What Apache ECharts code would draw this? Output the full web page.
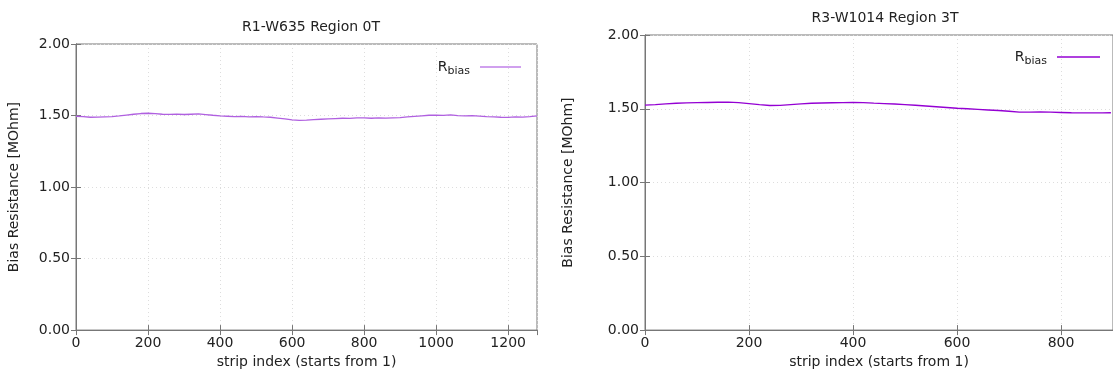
<!DOCTYPE html>
<html><head><meta charset="utf-8">
<script src="https://cdn.jsdelivr.net/npm/echarts@6/dist/echarts.min.js"></script>
<style>html,body{margin:0;padding:0;background:#fff}#c{width:1113px;height:374px}</style>
</head><body><div id="c"></div>
<script>
const leftTitle = "R1-W635 Region 0T";
const rightTitle = "R3-W1014 Region 3T";
const xName = "strip index (starts from 1)";
const yName = "Bias Resistance [MOhm]";

const leftIndex = [0,20,40,60,80,100,120,140,160,180,200,220,240,260,280,300,320,340,360,380,400,420,440,460,480,500,520,540,560,580,600,620,640,660,680,700,720,740,760,780,800,820,840,860,880,900,920,940,960,980,1000,1020,1040,1060,1080,1100,1120,1140,1160,1180,1200,1220,1240,1260,1280];
const leftValues = [1.495,1.492,1.488,1.489,1.491,1.493,1.497,1.503,1.509,1.514,1.516,1.513,1.509,1.508,1.510,1.507,1.509,1.511,1.507,1.502,1.498,1.495,1.492,1.494,1.491,1.493,1.490,1.488,1.482,1.476,1.470,1.466,1.468,1.471,1.474,1.477,1.479,1.481,1.480,1.483,1.484,1.481,1.483,1.482,1.484,1.486,1.490,1.494,1.498,1.502,1.503,1.501,1.504,1.500,1.498,1.499,1.496,1.493,1.491,1.488,1.487,1.490,1.489,1.492,1.497];

const rightIndex = [0,20,40,60,80,100,120,140,160,180,200,220,240,260,280,300,320,340,360,380,400,420,440,460,480,500,520,540,560,580,600,620,640,660,680,700,720,740,760,780,800,820,840,860,880,896];
const rightValues = [1.525,1.528,1.533,1.537,1.540,1.542,1.543,1.544,1.545,1.542,1.535,1.528,1.522,1.523,1.528,1.533,1.537,1.539,1.541,1.542,1.543,1.542,1.538,1.535,1.532,1.528,1.524,1.519,1.514,1.509,1.504,1.500,1.496,1.492,1.488,1.483,1.477,1.477,1.478,1.477,1.475,1.473,1.472,1.472,1.472,1.473];

const leftX = {min:0, max:1280, interval:200};
const rightX = {min:0, max:900, interval:200};
const yTicks = {min:0, max:2, interval:0.5};

const FONT = "DejaVu Sans";
const FS = 14;
const TXT = "#222";
const BORDER = "#777";

function pair(xs, ys){ return xs.map((x,i)=>[x, ys[i]]); }

const chart = echarts.init(document.getElementById('c'), null, {renderer:'canvas'});

const grids = [
  {left:76, top:44, width:461, height:289, show:true, borderColor:BORDER, borderWidth:1},
  {left:645, top:35, width:471, height:298, show:true, borderColor:BORDER, borderWidth:1}
];

function xAxes(gi, r){
  return [
    {type:'value', gridIndex:gi, min:r.min, max:r.max, interval:r.interval, position:'bottom',
     name:xName, nameLocation:'middle', nameGap:22,
     nameTextStyle:{fontFamily:FONT, fontSize:FS, color:TXT},
     axisLine:{show:true, lineStyle:{color:BORDER}},
     axisTick:{show:true, inside:true, length:5, lineStyle:{color:BORDER}},
     axisLabel:{fontFamily:FONT, fontSize:FS, color:TXT, margin:6, showMaxLabel:false, formatter:v=>String(v)},
     splitLine:{show:true, lineStyle:{color:'#ddd', type:[1,3]}}},
    {type:'value', gridIndex:gi, min:r.min, max:r.max, interval:r.interval, position:'top',
     axisLine:{show:true, lineStyle:{color:BORDER}},
     axisTick:{show:true, inside:true, length:5, lineStyle:{color:BORDER}},
     axisLabel:{show:false}, splitLine:{show:false}}
  ];
}
function yAxes(gi, gap){
  return [
    {type:'value', gridIndex:gi, min:yTicks.min, max:yTicks.max, interval:yTicks.interval, position:'left',
     name:yName, nameLocation:'middle', nameGap:gap, nameRotate:90,
     nameTextStyle:{fontFamily:FONT, fontSize:FS, color:TXT},
     axisLine:{show:true, lineStyle:{color:BORDER}},
     axisTick:{show:true, inside:true, length:5, lineStyle:{color:BORDER}},
     axisLabel:{fontFamily:FONT, fontSize:FS, color:TXT, margin:6, formatter:v=>v.toFixed(2)},
     splitLine:{show:true, lineStyle:{color:'#ddd', type:[1,3]}}},
    {type:'value', gridIndex:gi, min:yTicks.min, max:yTicks.max, interval:yTicks.interval, position:'right',
     axisLine:{show:true, lineStyle:{color:BORDER}},
     axisTick:{show:true, inside:true, length:5, lineStyle:{color:BORDER}},
     axisLabel:{show:false}, splitLine:{show:false}}
  ];
}

const legendRich = {
  r:{fontFamily:FONT, fontSize:FS, color:TXT},
  s:{fontFamily:FONT, fontSize:11, color:TXT, padding:[8,5,0,0]}
};

chart.setOption({
  animation:false,
  title:[
    {text:leftTitle, left:306, top:15, textAlign:'center', textStyle:{fontFamily:FONT, fontSize:FS, fontWeight:'normal', color:TXT}},
    {text:rightTitle, left:880, top:6, textAlign:'center', textStyle:{fontFamily:FONT, fontSize:FS, fontWeight:'normal', color:TXT}}
  ],
  grid:grids,
  xAxis:[...xAxes(0,leftX), ...xAxes(1,rightX)],
  yAxis:[...yAxes(0,55), ...yAxes(1,70)],
  legend:[
    {data:['Rl'], right:587, top:55, align:'right', icon:'rect', itemWidth:41, itemHeight:1.3,
     formatter:()=>'{r|R}{s|bias}', textStyle:{rich:legendRich}},
    {data:['Rr'], right:8, top:45, align:'right', icon:'rect', itemWidth:43, itemHeight:1.4,
     formatter:()=>'{r|R}{s|bias}', textStyle:{rich:legendRich}}
  ],
  series:[
    {name:'Rl', type:'line', xAxisIndex:0, yAxisIndex:0, data:pair(leftIndex,leftValues),
     symbol:'none', lineStyle:{color:'#b060e0', width:1.3}, itemStyle:{color:'#c080e8'}},
    {name:'Rr', type:'line', xAxisIndex:2, yAxisIndex:2, data:pair(rightIndex,rightValues),
     symbol:'none', lineStyle:{color:'#9400d3', width:1.4}, itemStyle:{color:'#9400d3'}}
  ]
});
</script></body></html>
